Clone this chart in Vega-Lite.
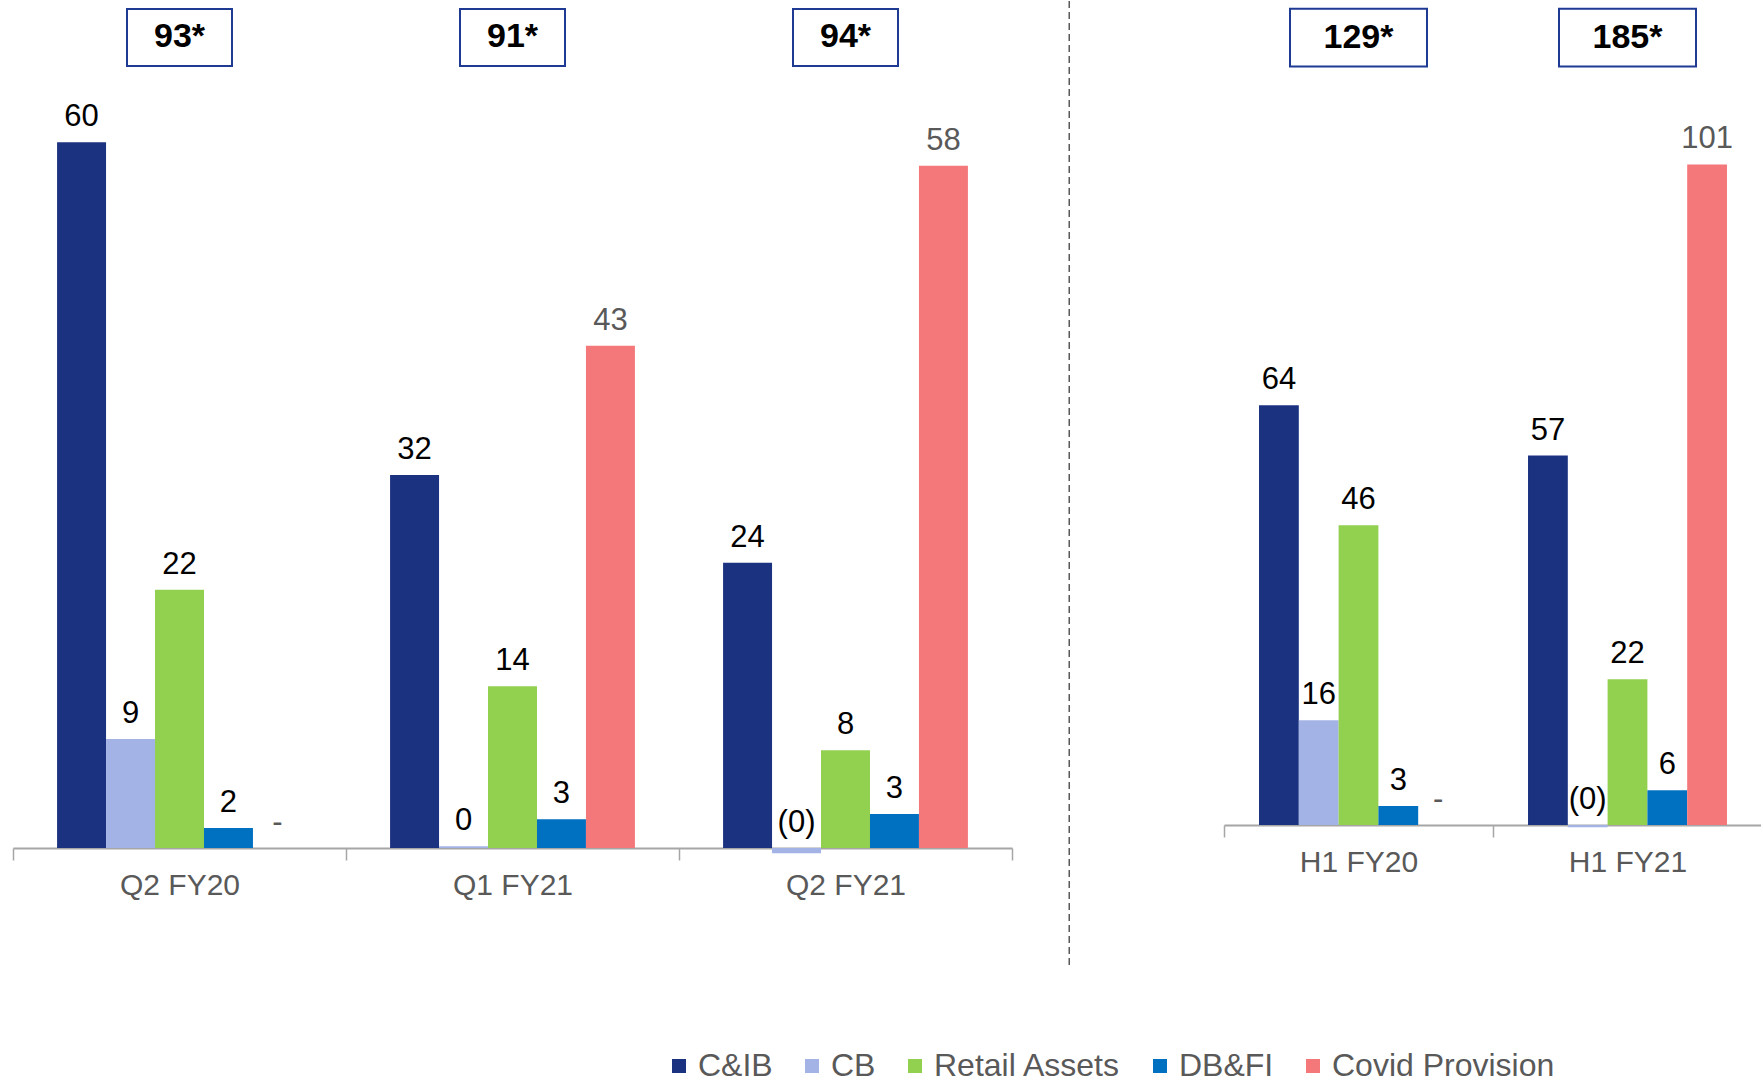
{
  "$schema": "https://vega.github.io/schema/vega-lite/v6.json",
  "padding": {"left": 12, "top": 0, "right": 0, "bottom": 0},
  "autosize": {"type": "pad"},
  "bounds": "flush",
  "spacing": 0,
  "resolve": {"scale": {"x": "independent", "xOffset": "independent"}},
  "config": {
    "font": "Liberation Sans",
    "view": {"stroke": null},
    "axis": {
      "labelFontSize": 30, "labelColor": "#595959", "labelPadding": 10, "tickSize": 12,
      "domainColor": "#A6A6A6", "tickColor": "#A6A6A6", "domainWidth": 2, "tickWidth": 1.5,
      "labelAngle": 0, "title": null, "tickBand": "extent", "grid": false, "labelFont": "Liberation Sans"
    }
  },
  "datasets": {
    "left": [
      {"period": "Q2 FY20", "segment": "C&IB", "value": 60, "lbl": "60"},
      {"period": "Q2 FY20", "segment": "CB", "value": 9.26, "lbl": "9"},
      {"period": "Q2 FY20", "segment": "Retail Assets", "value": 21.96, "lbl": "22"},
      {"period": "Q2 FY20", "segment": "DB&FI", "value": 1.7, "lbl": "2"},
      {"period": "Q2 FY20", "segment": "Covid Provision", "value": 0, "lbl": "-"},
      {"period": "Q1 FY21", "segment": "C&IB", "value": 31.7, "lbl": "32"},
      {"period": "Q1 FY21", "segment": "CB", "value": 0.15, "lbl": "0"},
      {"period": "Q1 FY21", "segment": "Retail Assets", "value": 13.75, "lbl": "14"},
      {"period": "Q1 FY21", "segment": "DB&FI", "value": 2.45, "lbl": "3"},
      {"period": "Q1 FY21", "segment": "Covid Provision", "value": 42.7, "lbl": "43"},
      {"period": "Q2 FY21", "segment": "C&IB", "value": 24.25, "lbl": "24"},
      {"period": "Q2 FY21", "segment": "CB", "value": -0.45, "lbl": "(0)"},
      {"period": "Q2 FY21", "segment": "Retail Assets", "value": 8.3, "lbl": "8"},
      {"period": "Q2 FY21", "segment": "DB&FI", "value": 2.9, "lbl": "3"},
      {"period": "Q2 FY21", "segment": "Covid Provision", "value": 58, "lbl": "58"}
    ],
    "right": [
      {"period": "H1 FY20", "segment": "C&IB", "value": 64.2, "lbl": "64"},
      {"period": "H1 FY20", "segment": "CB", "value": 16, "lbl": "16"},
      {"period": "H1 FY20", "segment": "Retail Assets", "value": 45.85, "lbl": "46"},
      {"period": "H1 FY20", "segment": "DB&FI", "value": 2.9, "lbl": "3"},
      {"period": "H1 FY20", "segment": "Covid Provision", "value": 0, "lbl": "-"},
      {"period": "H1 FY21", "segment": "C&IB", "value": 56.5, "lbl": "57"},
      {"period": "H1 FY21", "segment": "CB", "value": -0.35, "lbl": "(0)"},
      {"period": "H1 FY21", "segment": "Retail Assets", "value": 22.3, "lbl": "22"},
      {"period": "H1 FY21", "segment": "DB&FI", "value": 5.3, "lbl": "6"},
      {"period": "H1 FY21", "segment": "Covid Provision", "value": 101, "lbl": "101"}
    ],
    "ltot": [
      {"period": "Q2 FY20", "total": "93*"},
      {"period": "Q1 FY21", "total": "91*"},
      {"period": "Q2 FY21", "total": "94*"}
    ],
    "rtot": [
      {"period": "H1 FY20", "total": "129*"},
      {"period": "H1 FY21", "total": "185*"}
    ],
    "sep": [{"pos": 0.27}]
  },
  "hconcat": [
    {
      "width": 999,
      "height": 847,
      "resolve": {"scale": {"y": "independent"}},
      "layer": [
        {
          "data": {"name": "left"},
          "mark": {"type": "bar"},
          "encoding": {
            "x": {"field": "period", "type": "nominal", "sort": ["Q2 FY20", "Q1 FY21", "Q2 FY21"], "scale": {"paddingInner": 0, "paddingOuter": 0}},
            "xOffset": {"field": "segment", "type": "nominal", "scale": {"domain": ["C&IB", "CB", "Retail Assets", "DB&FI", "Covid Provision"], "paddingInner": 0, "paddingOuter": 0.9}},
            "y": {"field": "value", "type": "quantitative", "scale": {"domain": [0, 72]}, "axis": null},
            "color": {
              "field": "segment", "type": "nominal",
              "scale": {"domain": ["C&IB", "CB", "Retail Assets", "DB&FI", "Covid Provision"], "range": ["#1B3281", "#A3B3E5", "#92D050", "#0070C0", "#F4777A"]},
              "legend": {"orient": "none", "legendX": 650, "legendY": 1049, "direction": "horizontal", "title": null, "symbolType": "square", "symbolSize": 196, "symbolStrokeWidth": 0, "labelFontSize": 32, "labelColor": "#595959", "labelOffset": 3, "columnPadding": 23, "labelFont": "Liberation Sans", "labelLimit": 500, "padding": 0}
            }
          }
        },
        {
          "data": {"name": "left"},
          "mark": {"type": "text", "baseline": "alphabetic", "dy": -16, "fontSize": 31},
          "encoding": {
            "x": {"field": "period", "type": "nominal", "sort": ["Q2 FY20", "Q1 FY21", "Q2 FY21"]},
            "xOffset": {"field": "segment", "type": "nominal", "scale": {"domain": ["C&IB", "CB", "Retail Assets", "DB&FI", "Covid Provision"], "paddingInner": 0, "paddingOuter": 0.9}},
            "y": {"field": "value", "type": "quantitative", "scale": {"domain": [0, 72], "clamp": true}, "axis": null},
            "text": {"field": "lbl"},
            "color": {"condition": {"test": "datum.segment === 'Covid Provision'", "value": "#595959"}, "value": "#000000"}
          }
        },
        {
          "data": {"name": "ltot"},
          "mark": {"type": "bar", "width": 105, "fill": "#FFFFFF", "stroke": "#1F3A93", "strokeWidth": 2},
          "encoding": {
            "x": {"field": "period", "type": "nominal", "sort": ["Q2 FY20", "Q1 FY21", "Q2 FY21"]},
            "y": {"datum": 71.32, "type": "quantitative", "scale": {"domain": [0, 72]}, "axis": null},
            "y2": {"datum": 66.47}
          }
        },
        {
          "data": {"name": "ltot"},
          "mark": {"type": "text", "baseline": "middle", "fontSize": 34, "fontWeight": "bold", "color": "#000000"},
          "encoding": {
            "x": {"field": "period", "type": "nominal", "sort": ["Q2 FY20", "Q1 FY21", "Q2 FY21"]},
            "y": {"datum": 68.9, "type": "quantitative", "scale": {"domain": [0, 72]}, "axis": null},
            "text": {"field": "total"}
          }
        }
      ]
    },
    {
      "width": 212,
      "height": 966,
      "data": {"name": "sep"},
      "mark": {"type": "rule", "strokeDash": [7, 4], "color": "#595959", "strokeWidth": 1.5},
      "encoding": {
        "x": {"field": "pos", "type": "quantitative", "scale": {"domain": [0, 1]}, "axis": null}
      }
    },
    {
      "width": 538,
      "height": 824,
      "resolve": {"scale": {"y": "independent"}},
      "layer": [
        {
          "data": {"name": "right"},
          "mark": {"type": "bar"},
          "encoding": {
            "x": {"field": "period", "type": "nominal", "sort": ["H1 FY20", "H1 FY21"], "scale": {"paddingInner": 0, "paddingOuter": 0}},
            "xOffset": {"field": "segment", "type": "nominal", "scale": {"domain": ["C&IB", "CB", "Retail Assets", "DB&FI", "Covid Provision"], "paddingInner": 0, "paddingOuter": 0.88}},
            "y": {"field": "value", "type": "quantitative", "scale": {"domain": [0, 126]}, "axis": null},
            "color": {"field": "segment", "type": "nominal", "legend": null}
          }
        },
        {
          "data": {"name": "right"},
          "mark": {"type": "text", "baseline": "alphabetic", "dy": -16, "fontSize": 31},
          "encoding": {
            "x": {"field": "period", "type": "nominal", "sort": ["H1 FY20", "H1 FY21"]},
            "xOffset": {"field": "segment", "type": "nominal", "scale": {"domain": ["C&IB", "CB", "Retail Assets", "DB&FI", "Covid Provision"], "paddingInner": 0, "paddingOuter": 0.88}},
            "y": {"field": "value", "type": "quantitative", "scale": {"domain": [0, 126], "clamp": true}, "axis": null},
            "text": {"field": "lbl"},
            "color": {"condition": {"test": "datum.segment === 'Covid Provision'", "value": "#595959"}, "value": "#000000"}
          }
        },
        {
          "data": {"name": "rtot"},
          "mark": {"type": "bar", "width": 137, "fill": "#FFFFFF", "stroke": "#1F3A93", "strokeWidth": 2},
          "encoding": {
            "x": {"field": "period", "type": "nominal", "sort": ["H1 FY20", "H1 FY21"]},
            "y": {"datum": 124.8, "type": "quantitative", "scale": {"domain": [0, 126]}, "axis": null},
            "y2": {"datum": 116.0}
          }
        },
        {
          "data": {"name": "rtot"},
          "mark": {"type": "text", "baseline": "middle", "fontSize": 34, "fontWeight": "bold", "color": "#000000"},
          "encoding": {
            "x": {"field": "period", "type": "nominal", "sort": ["H1 FY20", "H1 FY21"]},
            "y": {"datum": 120.4, "type": "quantitative", "scale": {"domain": [0, 126]}, "axis": null},
            "text": {"field": "total"}
          }
        }
      ]
    }
  ]
}
